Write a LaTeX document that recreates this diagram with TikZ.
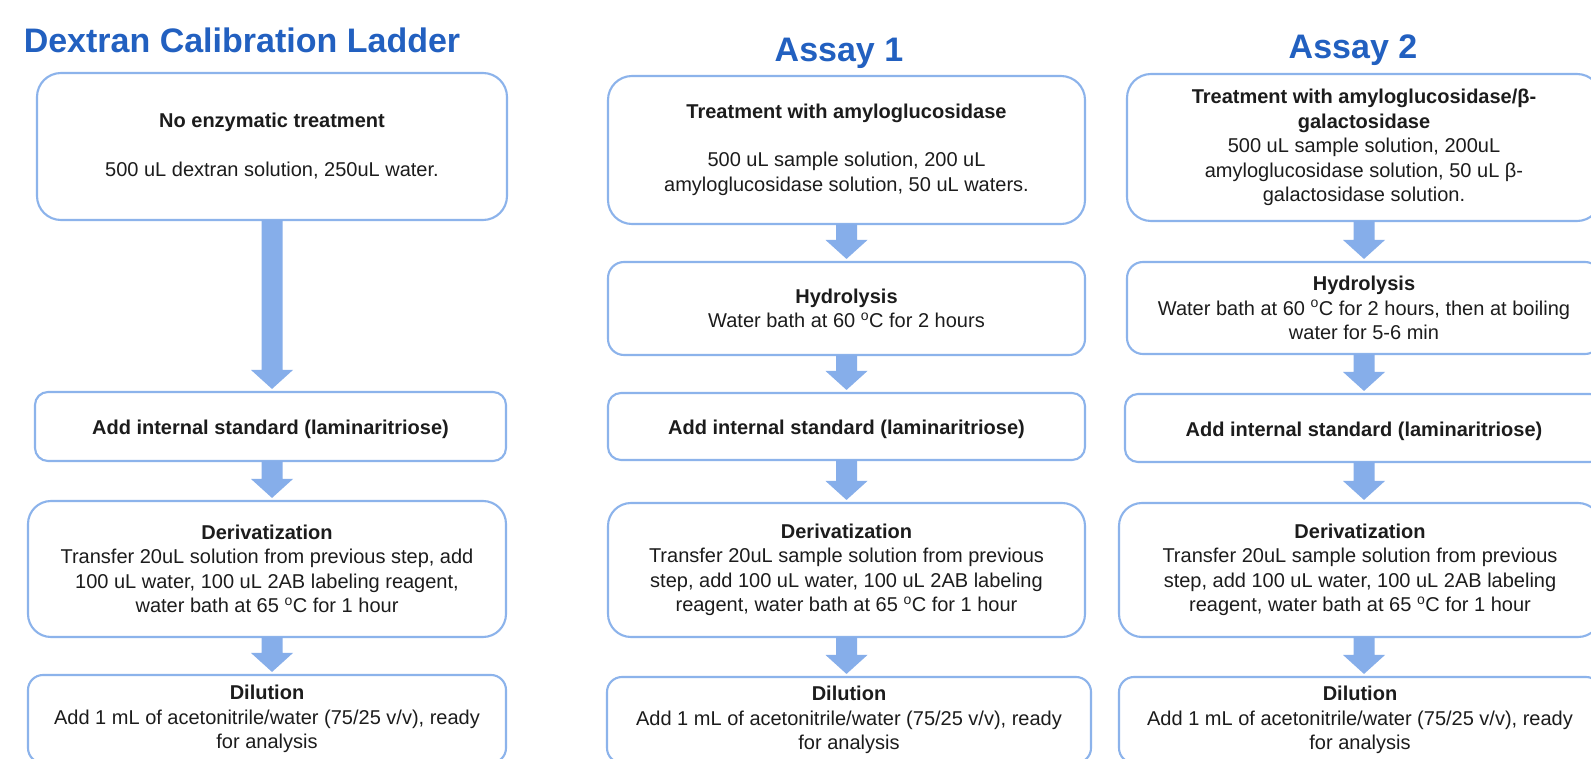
\documentclass[tikz,border=0pt]{standalone}
\usepackage{fontspec}
\setmainfont{Liberation Sans}
\usetikzlibrary{calc}
\definecolor{titleblue}{RGB}{34,96,192}
\definecolor{boxline}{RGB}{140,179,235}
\definecolor{arrowfill}{RGB}{134,174,234}
\definecolor{bodytext}{RGB}{28,28,28}
\newcommand\flowarrow[3]{%
  \path (#1.south -| #3) coordinate (fa-s) (#2.north -| #3) coordinate (fa-e);
  \fill[arrowfill] ($(fa-s)+(-10.5,-1)$) -- ($(fa-e)+(-10.5,-21)$) -- ($(fa-e)+(-21,-21)$)
    -- ($(fa-e)+(0,-2)$) -- ($(fa-e)+(21,-21)$) -- ($(fa-e)+(10.5,-21)$) -- ($(fa-s)+(10.5,-1)$) -- cycle;}
\begin{document}
\begin{tikzpicture}[x=1pt,y=-1pt,
  titletext/.style={font=\fontsize{34}{40}\selectfont\bfseries, text=titleblue, anchor=base, inner sep=0},
  stepbox/.style={draw=boxline, line width=2.1pt, fill=white, align=center, inner sep=0,
     text=bodytext, font=\fontsize{20}{24.5}\selectfont,
     execute at begin node={\rule{0pt}{21pt}}},
  ]
\useasboundingbox (0,0) rectangle (1591,759);
\clip (0,0) rectangle (1591,759);
\fill[white] (0,0) rectangle (1591,759);

\coordinate (x1) at (272,0);
\coordinate (x2) at (846.5,0);
\coordinate (x3) at (1364,0);

% titles
\node[titletext] (t1) at (242,53) {Dextran Calibration Ladder};
\node[titletext] (t2) at (839,62) {Assay 1};
\node[titletext] (t3) at (1353,59) {Assay 2};

% column 1
\node[stepbox, minimum width=470, minimum height=147, rounded corners=24] (a1) at (272,146.5)
  {\textbf{No enzymatic treatment}\\[24.5pt] 500 uL dextran solution, 250uL water.};
\node[stepbox, minimum width=471, minimum height=69, rounded corners=13] (b1) at (270.5,426.5)
  {\textbf{Add internal standard (laminaritriose)}};
\node[stepbox, minimum width=478, minimum height=136, rounded corners=23] (c1) at (267,569)
  {\textbf{Derivatization}\\ Transfer 20uL solution from previous step, add\\ 100 uL water, 100 uL 2AB labeling reagent,\\ water bath at 65 \textsuperscript{o}C for 1 hour};
\node[stepbox, minimum width=478, minimum height=88, rounded corners=15] (d1) at (267,719)
  {\textbf{Dilution}\\ Add 1 mL of acetonitrile/water (75/25 v/v), ready\\ for analysis};

% column 2
\node[stepbox, minimum width=477, minimum height=148, rounded corners=24] (a2) at (846.5,150)
  {\textbf{Treatment with amyloglucosidase}\\[23.5pt] 500 uL sample solution, 200 uL\\ amyloglucosidase solution, 50 uL waters.};
\node[stepbox, minimum width=477, minimum height=93, rounded corners=16] (h2) at (846.5,308.5)
  {\textbf{Hydrolysis}\\ Water bath at 60 \textsuperscript{o}C for 2 hours};
\node[stepbox, minimum width=477, minimum height=67, rounded corners=13] (b2) at (846.5,426.5)
  {\textbf{Add internal standard (laminaritriose)}};
\node[stepbox, minimum width=477, minimum height=134, rounded corners=23] (c2) at (846.5,570)
  {\textbf{Derivatization}\\ Transfer 20uL sample solution from previous\\ step, add 100 uL water, 100 uL 2AB labeling\\ reagent, water bath at 65 \textsuperscript{o}C for 1 hour};
\node[stepbox, minimum width=484, minimum height=86, rounded corners=15] (d2) at (849,720)
  {\textbf{Dilution}\\ Add 1 mL of acetonitrile/water (75/25 v/v), ready\\ for analysis};

% column 3
\node[stepbox, minimum width=474, minimum height=147, rounded corners=24] (a3) at (1364,147.5)
  {\textbf{Treatment with amyloglucosidase/β-}\\ \textbf{galactosidase}\\ 500 uL sample solution, 200uL\\ amyloglucosidase solution, 50 uL β-\\ galactosidase solution.};
\node[stepbox, minimum width=474, minimum height=92, rounded corners=16] (h3) at (1364,308)
  {\textbf{Hydrolysis}\\ Water bath at 60 \textsuperscript{o}C for 2 hours, then at boiling\\ water for 5-6 min};
\node[stepbox, minimum width=478, minimum height=68, rounded corners=13] (b3) at (1364,428)
  {\textbf{Add internal standard (laminaritriose)}};
\node[stepbox, minimum width=482, minimum height=134, rounded corners=23] (c3) at (1360,570)
  {\textbf{Derivatization}\\ Transfer 20uL sample solution from previous\\ step, add 100 uL water, 100 uL 2AB labeling\\ reagent, water bath at 65 \textsuperscript{o}C for 1 hour};
\node[stepbox, minimum width=482, minimum height=86, rounded corners=15] (d3) at (1360,720)
  {\textbf{Dilution}\\ Add 1 mL of acetonitrile/water (75/25 v/v), ready\\ for analysis};

% arrows
\flowarrow{a1}{b1}{x1}
\flowarrow{b1}{c1}{x1}
\flowarrow{c1}{d1}{x1}
\flowarrow{a2}{h2}{x2}
\flowarrow{h2}{b2}{x2}
\flowarrow{b2}{c2}{x2}
\flowarrow{c2}{d2}{x2}
\flowarrow{a3}{h3}{x3}
\flowarrow{h3}{b3}{x3}
\flowarrow{b3}{c3}{x3}
\flowarrow{c3}{d3}{x3}
\end{tikzpicture}
\end{document}
